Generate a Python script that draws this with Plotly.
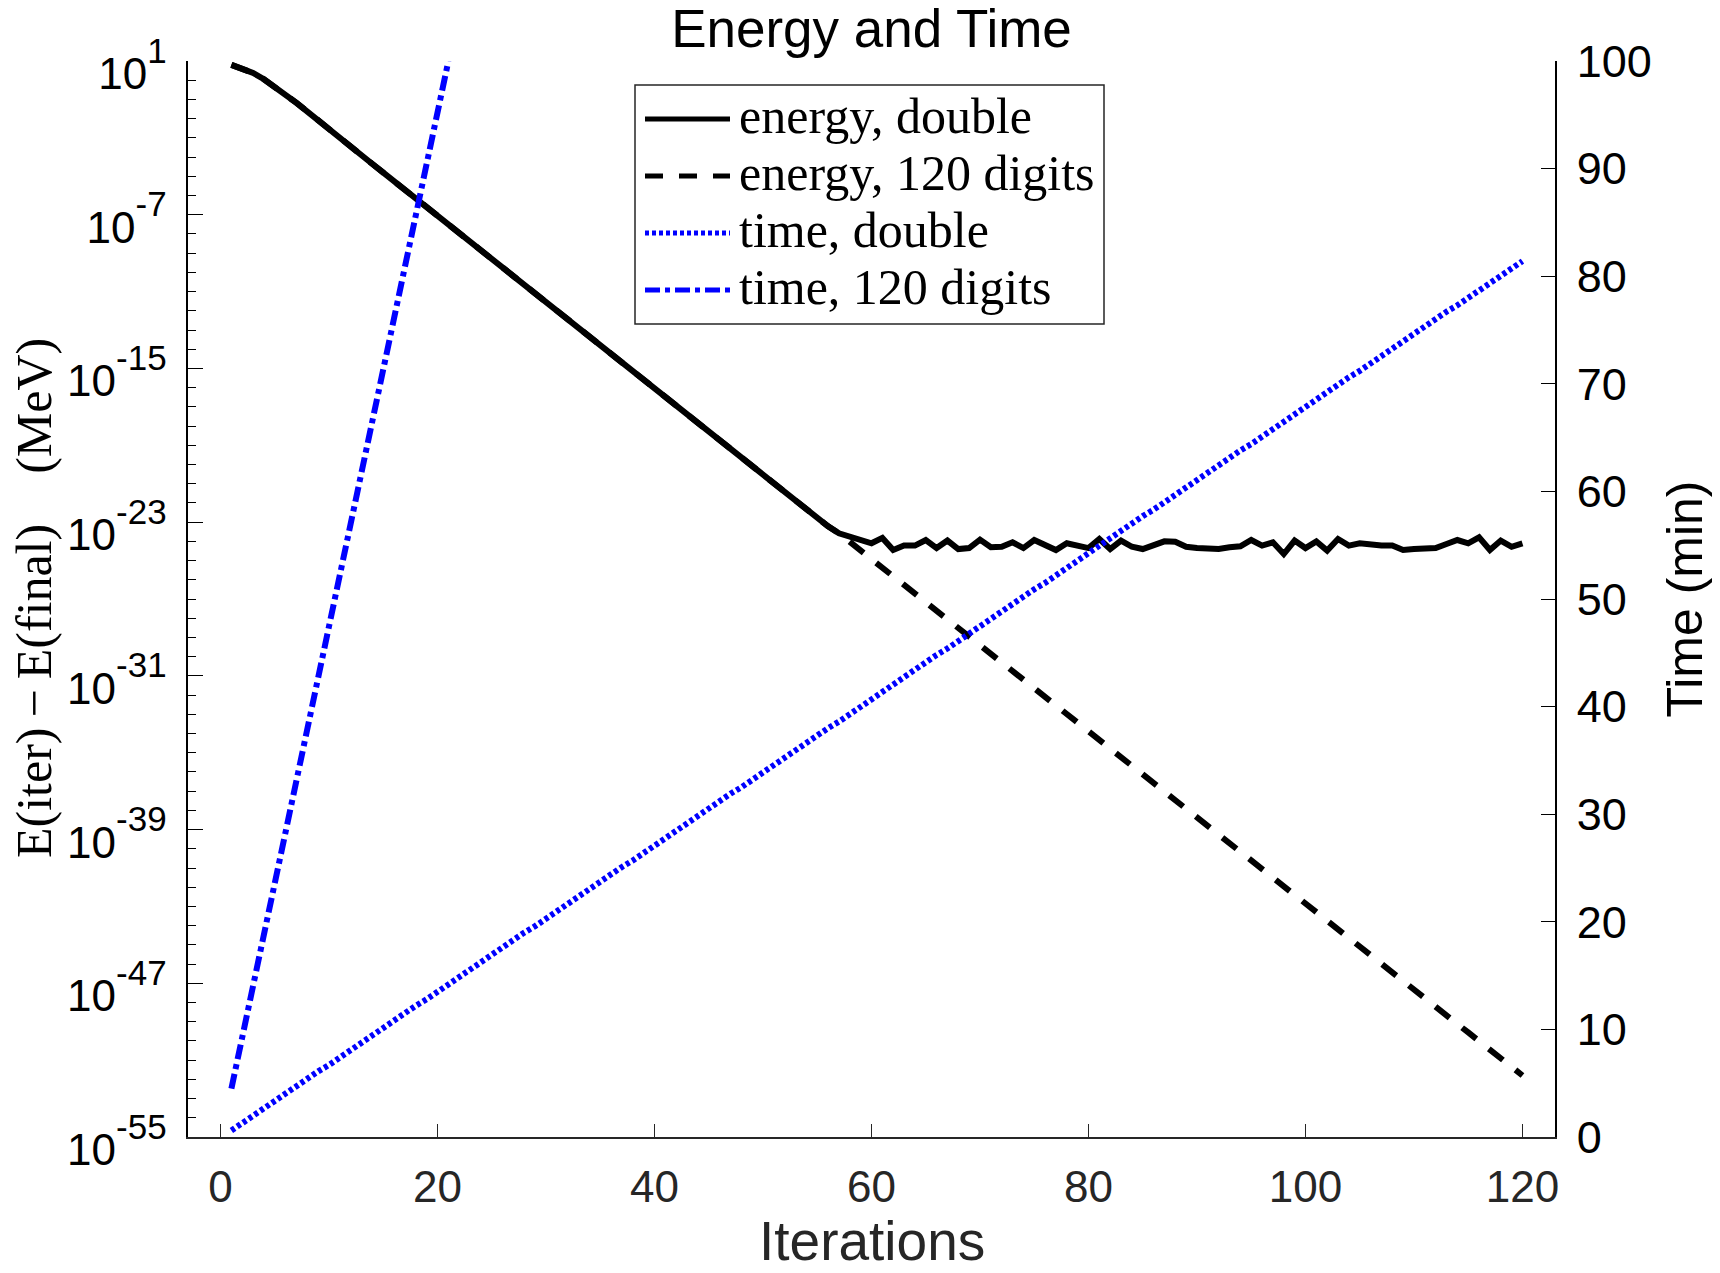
import numpy as np
import plotly.graph_objects as go

# ---------------- data ----------------
iterations = list(range(1, 121))

# log10 of E(iter) - E(final) in MeV, double precision run
energy_double_log10 = [
    0.80, 0.62, 0.38, 0.05, -0.33, -0.75, -1.18, -1.63, -2.10, -2.56,
    -3.01, -3.46, -3.91, -4.36, -4.81, -5.26, -5.71, -6.16, -6.61, -7.06,
    -7.51, -7.96, -8.41, -8.86, -9.31, -9.76, -10.21, -10.66, -11.11, -11.56,
    -12.01, -12.46, -12.91, -13.36, -13.81, -14.26, -14.71, -15.16, -15.61, -16.06,
    -16.51, -16.96, -17.41, -17.86, -18.31, -18.76, -19.21, -19.66, -20.11, -20.56,
    -21.01, -21.46, -21.91, -22.36, -22.80, -23.22, -23.58,
    -23.76, -23.96, -24.10, -23.82, -24.45, -24.22, -24.22, -23.93, -24.35, -23.96,
    -24.40, -24.35, -23.91, -24.31, -24.28, -24.05, -24.35, -23.93, -24.22, -24.45,
    -24.10, -24.22, -24.35, -23.88, -24.40, -23.96, -24.28, -24.40, -24.22, -24.00,
    -24.02, -24.28, -24.35, -24.35, -24.40, -24.31, -24.26, -23.93, -24.22, -24.05,
    -24.66, -23.96, -24.35, -24.00, -24.48, -23.88, -24.22, -24.10, -24.17, -24.22,
    -24.22, -24.45, -24.40, -24.35, -24.35, -24.14, -23.93, -24.10, -23.79, -24.45,
    -23.96, -24.28, -24.10,
]

# log10 of E(iter) - E(final) in MeV, 120-digit run
energy_120_log10 = [
    0.80, 0.62, 0.38, 0.05, -0.33, -0.75, -1.18, -1.63, -2.10, -2.56,
    -3.01, -3.46, -3.91, -4.36, -4.81, -5.26, -5.71, -6.16, -6.61, -7.06,
    -7.51, -7.96, -8.41, -8.86, -9.31, -9.76, -10.21, -10.66, -11.11, -11.56,
    -12.01, -12.46, -12.91, -13.36, -13.81, -14.26, -14.71, -15.16, -15.61, -16.06,
    -16.51, -16.96, -17.41, -17.86, -18.31, -18.76, -19.21, -19.66, -20.11, -20.56,
    -21.01, -21.46, -21.91, -22.36, -22.80, -23.22, -23.58,
    -24.03, -24.48, -24.92, -25.37, -25.82, -26.27, -26.72, -27.16, -27.61, -28.06,
    -28.51, -28.96, -29.40, -29.85, -30.30, -30.75, -31.20, -31.64, -32.09, -32.54,
    -32.99, -33.44, -33.88, -34.33, -34.78, -35.23, -35.68, -36.12, -36.57, -37.02,
    -37.47, -37.92, -38.36, -38.81, -39.26, -39.71, -40.16, -40.60, -41.05, -41.50,
    -41.95, -42.40, -42.84, -43.29, -43.74, -44.19, -44.64, -45.08, -45.53, -45.98,
    -46.43, -46.88, -47.32, -47.77, -48.22, -48.67, -49.12, -49.56, -50.01, -50.46,
    -50.91, -51.36, -51.80,
]

# cumulative time in minutes, double precision run
time_double_min = [
    0.6, 1.3, 2.0, 2.7, 3.3, 4.0, 4.7, 5.4, 6.1, 6.7,
    7.4, 8.1, 8.8, 9.4, 10.1, 10.8, 11.5, 12.2, 12.8, 13.5,
    14.2, 14.9, 15.6, 16.2, 16.9, 17.6, 18.3, 19.0, 19.6, 20.3,
    21.0, 21.7, 22.3, 23.0, 23.7, 24.4, 25.1, 25.7, 26.4, 27.1,
    27.8, 28.5, 29.1, 29.8, 30.5, 31.2, 31.9, 32.5, 33.2, 33.9,
    34.6, 35.2, 35.9, 36.6, 37.3, 38.0, 38.6, 39.3, 40.0, 40.7,
    41.4, 42.0, 42.7, 43.4, 44.1, 44.8, 45.4, 46.1, 46.8, 47.5,
    48.1, 48.8, 49.5, 50.2, 50.9, 51.5, 52.2, 52.9, 53.6, 54.3,
    54.9, 55.6, 56.3, 57.0, 57.7, 58.3, 59.0, 59.7, 60.4, 61.0,
    61.7, 62.4, 63.1, 63.8, 64.4, 65.1, 65.8, 66.5, 67.2, 67.8,
    68.5, 69.2, 69.9, 70.6, 71.2, 71.9, 72.6, 73.3, 73.9, 74.6,
    75.3, 76.0, 76.7, 77.3, 78.0, 78.7, 79.4, 80.1, 80.7, 81.4,
]

# cumulative time in minutes, 120-digit run (visible part, up to the axis top)
time_120_iterations = list(range(1, 22))
time_120_min = [
    4.5, 9.3, 14.1, 18.8, 23.6, 28.4, 33.2, 37.9, 42.7, 47.5,
    52.3, 57.0, 61.8, 66.6, 71.4, 76.1, 80.9, 85.7, 90.5, 95.2, 100.0,
]

series_names = ["energy, double", "energy, 120 digits", "time, double", "time, 120 digits"]

x_tick_values = [0, 20, 40, 60, 80, 100, 120]
energy_major_exponents = [1, -7, -15, -23, -31, -39, -47, -55]
energy_minor_exponents = list(range(-55, 2))
time_tick_values = [0, 10, 20, 30, 40, 50, 60, 70, 80, 90, 100]

# ---------------- styling ----------------
SANS = "Arial, 'Liberation Sans', Helvetica, sans-serif"
SERIF = "'Liberation Serif', 'Times New Roman', serif"
BLUE = "#0000FF"
AXGRAY = "#262626"
LW = 6
series_styles = [
    dict(color="black", width=LW, dash="solid"),
    dict(color="black", width=LW, dash="18px,16px"),
    dict(color=BLUE, width=LW, dash="4px,3px"),
    dict(color=BLUE, width=LW, dash="15px,5px,5px,5px"),
]

W, H = 1720, 1273
PL, PR, PT, PB = 188, 1555, 61, 1137  # plot area in pixels


def fx(px):
    return (px - PL) / (PR - PL)


def fy(py):
    return (PB - py) / (PB - PT)


fig = go.Figure()

fig.add_trace(go.Scatter(
    x=iterations, y=np.power(10.0, energy_double_log10), name=series_names[0],
    mode="lines", line=series_styles[0], yaxis="y"))
fig.add_trace(go.Scatter(
    x=iterations, y=np.power(10.0, energy_120_log10), name=series_names[1],
    mode="lines", line=series_styles[1], yaxis="y"))
fig.add_trace(go.Scatter(
    x=iterations, y=time_double_min, name=series_names[2],
    mode="lines", line=series_styles[2], yaxis="y2"))
fig.add_trace(go.Scatter(
    x=time_120_iterations, y=time_120_min, name=series_names[3],
    mode="lines", line=series_styles[3], yaxis="y2"))

major_vals = [10.0 ** e for e in energy_major_exponents]
major_text = ['<span style="font-size:44px">10</span>'
              '<sup><span style="font-size:35px">%d</span></sup>' % e
              for e in energy_major_exponents]
minor_vals = [10.0 ** e for e in energy_minor_exponents]

# ---------------- legend box (drawn like MATLAB's) ----------------
leg_left, leg_right, leg_top, leg_bottom = 635, 1104, 85, 324
row_y = [119, 176, 233, 290]
sample_x0, sample_x1, text_x = 645, 730, 737

shapes = [dict(type="rect", xref="paper", yref="paper", layer="above",
               x0=fx(leg_left), x1=fx(leg_right), y0=fy(leg_bottom), y1=fy(leg_top),
               line=dict(color=AXGRAY, width=1.5), fillcolor="white")]
annotations = []
for name, style, ry in zip(series_names, series_styles, row_y):
    shapes.append(dict(type="line", xref="paper", yref="paper", layer="above",
                       x0=fx(sample_x0), x1=fx(sample_x1), y0=fy(ry), y1=fy(ry),
                       line=dict(color=style["color"], width=5,
                                 dash=style["dash"])))
    annotations.append(dict(text=name, xref="paper", yref="paper",
                            x=fx(text_x), y=fy(ry - 3), xanchor="left", yanchor="middle",
                            showarrow=False,
                            font=dict(family=SERIF, size=50, color="black")))

# axis titles (placed like MATLAB's)
annotations.append(dict(text="Iterations", xref="paper", yref="paper",
                        x=0.5, y=fy(H), xanchor="center", yanchor="bottom",
                        showarrow=False, borderpad=0,
                        font=dict(family=SANS, size=55, color=AXGRAY)))
annotations.append(dict(text="E(iter)\u2009\u2212\u2009E(final)\u2002\u2002(MeV)",
                        xref="paper", yref="paper", x=fx(34), y=fy(598),
                        xanchor="center", yanchor="middle", textangle=-90,
                        showarrow=False,
                        font=dict(family=SERIF, size=50, color="black")))

fig.update_layout(
    width=W, height=H,
    margin=dict(l=PL, r=W - PR, t=PT, b=H - PB, autoexpand=False),
    paper_bgcolor="white", plot_bgcolor="white",
    font=dict(family=SANS, color="black"),
    showlegend=False,
    title=dict(text="Energy and Time", x=0.5, xref="paper", xanchor="center",
               y=1 - 28 / H, yref="container", yanchor="middle",
               font=dict(family=SANS, size=53, color="black")),
    xaxis=dict(
        range=[-3, 123], tickvals=x_tick_values, ticks="inside", ticklen=13,
        tickwidth=1.3, tickcolor=AXGRAY, showline=True, linecolor=AXGRAY,
        linewidth=1.5, showgrid=False, zeroline=False, mirror=False,
        tickfont=dict(family=SANS, size=44, color=AXGRAY), ticklabelstandoff=10,
    ),
    yaxis=dict(
        type="log", range=[-55, 1], tickvals=major_vals, ticktext=major_text,
        ticks="inside", ticklen=15, tickwidth=1.3, tickcolor="black",
        showline=True, linecolor="black", linewidth=1.5, showgrid=False,
        zeroline=False, tickfont=dict(family=SANS, size=63, color="black"),
        ticklabelstandoff=7, ticklabelshift=6,
        minor=dict(tickvals=minor_vals, ticks="inside", ticklen=8,
                   tickwidth=1.2, tickcolor="black", showgrid=False),
    ),
    yaxis2=dict(
        overlaying="y", side="right", range=[0, 100], tickvals=time_tick_values,
        ticks="inside", ticklen=14, tickwidth=1.3, tickcolor="black",
        showline=True, linecolor="black", linewidth=1.5, showgrid=False,
        zeroline=False, tickfont=dict(family=SANS, size=45, color="black"),
        ticklabelstandoff=11,
        title=dict(text="Time (min)", font=dict(family=SANS, size=50, color="black"),
                   standoff=16),
    ),
    shapes=shapes,
    annotations=annotations,
)

fig.write_html("out.html", config={"displayModeBar": False},
               post_script="document.body.style.margin='0';")
